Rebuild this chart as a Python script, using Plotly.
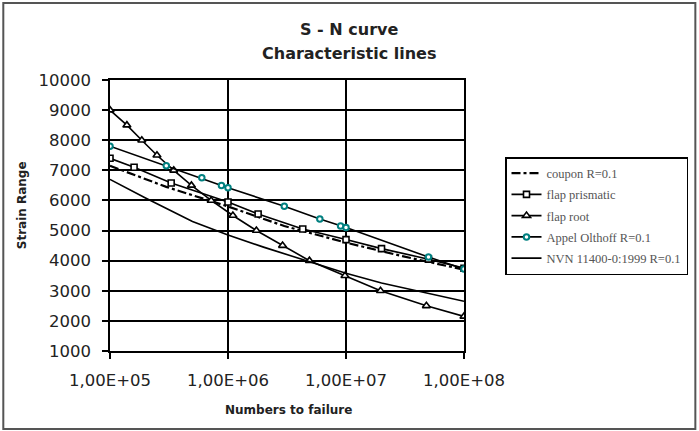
import plotly.graph_objects as go

# ---------------- data ----------------
coupon_N = [1e5, 3e5, 1e6, 3e6, 1e7, 3e7, 1e8]
coupon_S = [7150, 6450, 5800, 5150, 4600, 4150, 3700]

prism_N = [1e5, 1.6e5, 3.3e5, 1e6, 1.8e6, 4.3e6, 1e7, 2e7, 5e7, 1e8]
prism_S = [7400, 7100, 6580, 5950, 5550, 5050, 4700, 4400, 4050, 3750]

root_N = [1e5, 1.39e5, 1.86e5, 2.5e5, 3.47e5, 4.9e5, 7.2e5, 1.1e6, 1.74e6,
          2.9e6, 4.9e6, 9.8e6, 1.96e7, 4.8e7, 1e8]
root_S = [9000, 8500, 8000, 7500, 7000, 6500, 6000, 5500, 5000,
          4500, 4000, 3500, 3000, 2500, 2150]

appel_N = [1e5, 3e5, 6e5, 8.8e5, 1e6, 3e6, 6e6, 9e6, 1e7, 5e7, 1e8]
appel_S = [7800, 7150, 6750, 6500, 6420, 5810, 5380, 5150, 5100, 4120, 3720]

nvn_N = [1e5, 2e5, 5e5, 1e6, 2e6, 5e6, 1e7, 2e7, 5e7, 1e8]
nvn_S = [6700, 6080, 5300, 4850, 4450, 3950, 3580, 3260, 2900, 2650]

series_names = ["coupon R=0.1", "flap prismatic", "flap root",
                "Appel Olthoff R=0.1", "NVN 11400-0:1999 R=0.1"]

x_tickvals = [1e5, 1e6, 1e7, 1e8]
x_ticktext = ["1,00E+05", "1,00E+06", "1,00E+07", "1,00E+08"]
y_tickvals = [1000, 2000, 3000, 4000, 5000, 6000, 7000, 8000, 9000, 10000]
y_ticktext = ["1000", "2000", "3000", "4000", "5000", "6000", "7000",
              "8000", "9000", "10000"]

title_lines = ["S - N curve", "Characteristic lines"]
x_title = "Numbers to failure"
y_title = "Strain Range"

# ---------------- figure ----------------
W, H = 699, 431
L, R, T, B = 110, 234, 80, 80
pw, ph = W - L - R, H - T - B


def px(x):
    return (x - L) / pw


def py(y):
    return (H - B - y) / ph


fig = go.Figure()

fig.add_trace(go.Scatter(
    x=coupon_N, y=coupon_S, name=series_names[0], mode="lines",
    legendgroup="g1",
    line=dict(color="black", width=2.2, dash="dashdot")))

fig.add_trace(go.Scatter(
    x=prism_N, y=prism_S, name=series_names[1], mode="lines+markers",
    legendgroup="g2",
    line=dict(color="black", width=1.6),
    marker=dict(symbol="square", size=6, color="white",
                line=dict(color="black", width=1.6))))

fig.add_trace(go.Scatter(
    x=root_N, y=root_S, name=series_names[2], mode="lines+markers",
    legendgroup="g3",
    line=dict(color="black", width=1.6),
    marker=dict(symbol="triangle-up", size=7, color="white",
                line=dict(color="black", width=1.6))))

fig.add_trace(go.Scatter(
    x=appel_N, y=appel_S, name=series_names[3], mode="lines+markers",
    legendgroup="g4",
    line=dict(color="black", width=1.6),
    marker=dict(symbol="circle", size=5.5, color="white",
                line=dict(color="#008080", width=2))))

fig.add_trace(go.Scatter(
    x=nvn_N, y=nvn_S, name=series_names[4], mode="lines",
    legendgroup="g5",
    line=dict(color="black", width=1.6)))

axis_font = dict(family="DejaVu Sans", size=16.5, color="#222")

fig.update_layout(
    width=W, height=H, autosize=False,
    margin=dict(l=L, r=R, t=T, b=B, pad=0),
    paper_bgcolor="white", plot_bgcolor="white",
    showlegend=True,
    legend=dict(
        x=px(505), y=py(157), xanchor="left", yanchor="top",
        bordercolor="black", borderwidth=1.5, bgcolor="white",
        font=dict(family="Liberation Serif", size=12.5, color="#555"),
        tracegroupgap=2, itemwidth=30,
    ),
    xaxis=dict(
        type="log", range=[5, 8],
        tickvals=x_tickvals, ticktext=x_ticktext,
        showgrid=True, gridcolor="black", gridwidth=1.5,
        showline=True, linecolor="black", linewidth=1.5, mirror=True,
        ticks="outside", ticklen=6, tickcolor="black", tickwidth=1.5,
        tickfont=axis_font, zeroline=False, ticklabelstandoff=7,
    ),
    yaxis=dict(
        range=[1000, 10000], tickvals=y_tickvals, ticktext=y_ticktext,
        showgrid=True, gridcolor="black", gridwidth=1.5,
        showline=True, linecolor="black", linewidth=1.5, mirror=True,
        ticks="outside", ticklen=6, tickcolor="black", tickwidth=1.5,
        tickfont=axis_font, zeroline=False, ticklabelstandoff=8,
    ),
)

bold_font = dict(family="DejaVu Sans", size=16, color="#222")
fig.add_annotation(text="<b>%s</b>" % title_lines[0], xref="paper", yref="paper",
                   x=px(350), y=py(29), xanchor="center", yanchor="middle",
                   showarrow=False, font=bold_font)
fig.add_annotation(text="<b>%s</b>" % title_lines[1], xref="paper", yref="paper",
                   x=px(350), y=py(54), xanchor="center", yanchor="middle",
                   showarrow=False, font=bold_font)
fig.add_annotation(text="<b>%s</b>" % x_title, xref="paper", yref="paper",
                   x=px(289), y=py(410), xanchor="center", yanchor="middle",
                   showarrow=False,
                   font=dict(family="DejaVu Sans", size=12, color="#222"))
fig.add_annotation(text="<b>%s</b>" % y_title, xref="paper", yref="paper",
                   x=px(22), y=py(205), xanchor="center", yanchor="middle",
                   textangle=-90, showarrow=False,
                   font=dict(family="DejaVu Sans", size=12, color="#222"))

# outer chart border
fig.add_shape(type="rect", xref="paper", yref="paper",
              x0=px(3), x1=px(697), y0=py(429), y1=py(3),
              line=dict(color="#555", width=2), fillcolor="rgba(0,0,0,0)",
              layer="above")

fig.write_html("out.html",
               config={"displayModeBar": False, "responsive": False},
               post_script="document.body.style.margin='0px';"
                           "document.body.style.overflow='hidden';")
